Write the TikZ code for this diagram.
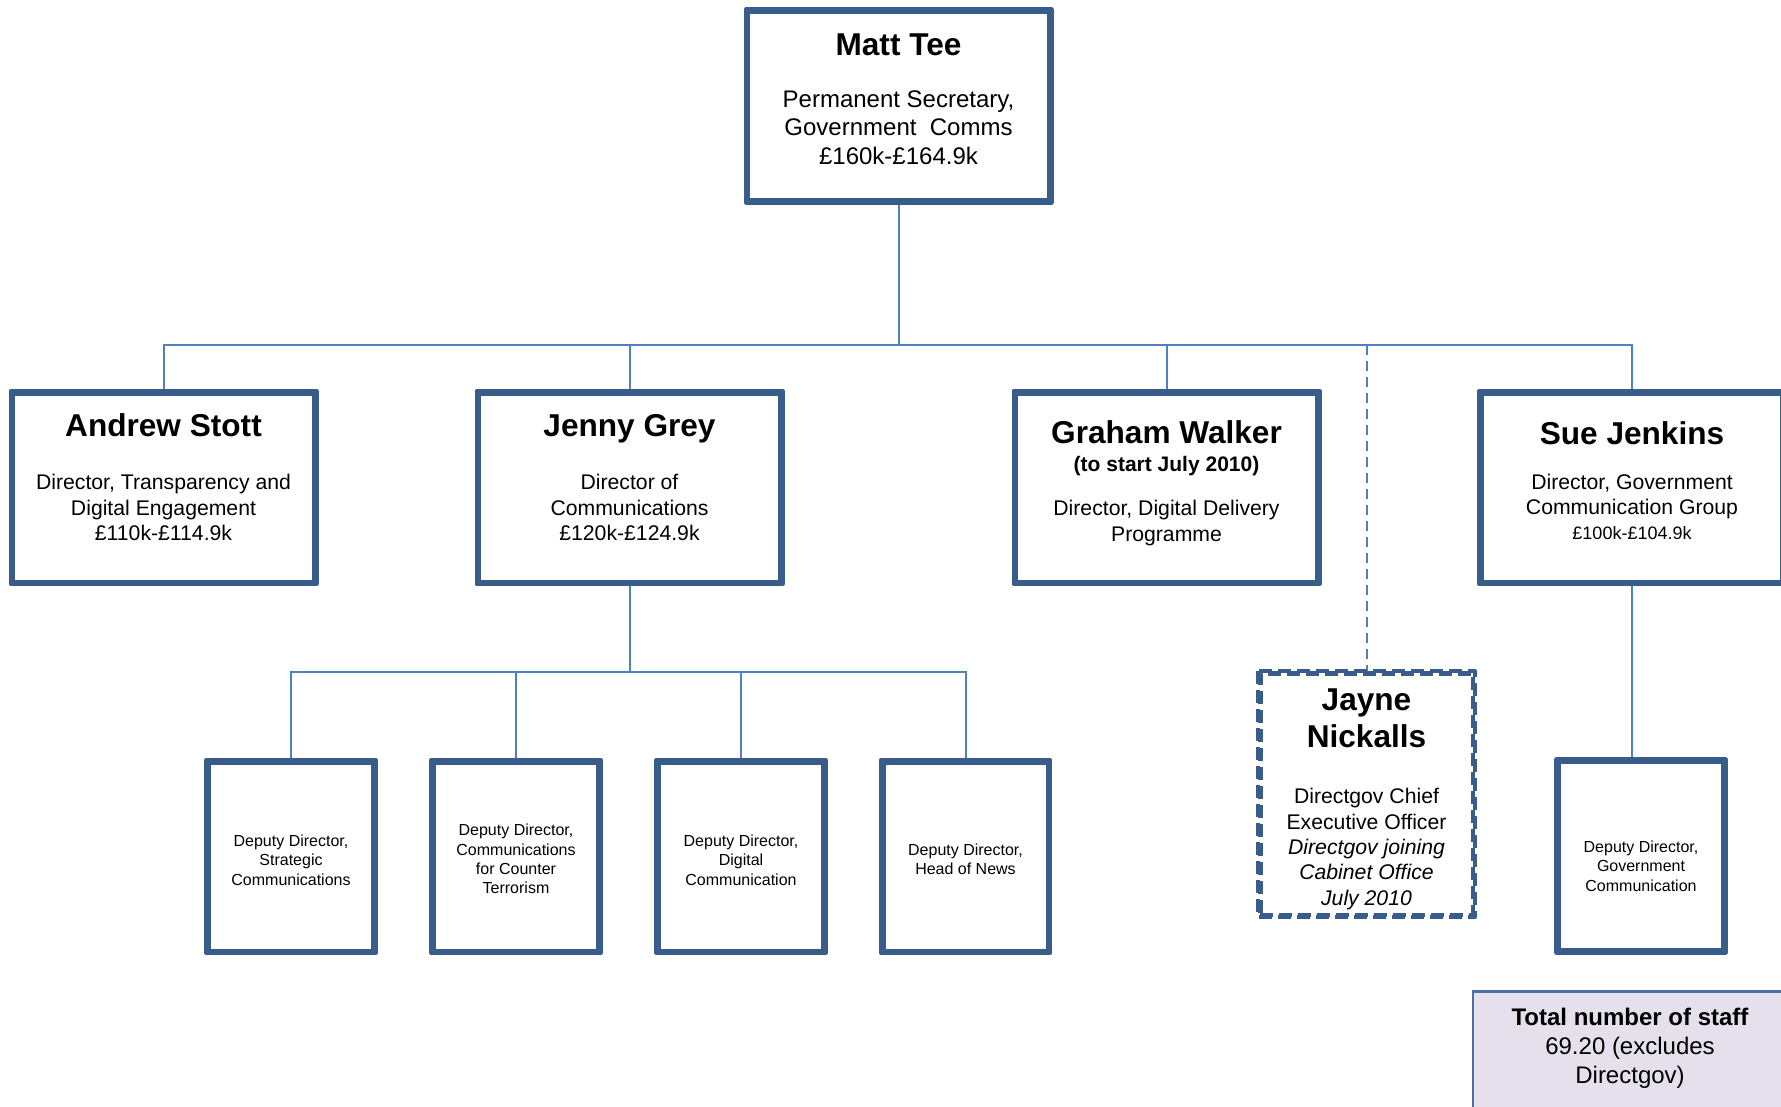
\documentclass[tikz,border=0pt]{standalone}
\usepackage{fontspec}
\setmainfont{Liberation Sans}
\usetikzlibrary{calc}

\definecolor{boxblue}{HTML}{385D8A}
\definecolor{linkblue}{HTML}{4F81BD}
\definecolor{notefill}{HTML}{E5E0EC}
\definecolor{noteline}{HTML}{4A6FA8}

\tikzset{
  orgbox/.style={draw=boxblue, line width=2.25pt, line join=round, fill=white,
    inner sep=0pt, minimum width=150.5pt, minimum height=94.25pt},
  deputybox/.style={orgbox, minimum width=82.25pt},
  plannedbox/.style={orgbox, dash pattern=on 6.5pt off 3pt, minimum width=106.25pt,
    minimum height=120.75pt},
  notebox/.style={draw=noteline, line width=1.25pt, fill=notefill, inner sep=0pt,
    minimum width=157pt, minimum height=70pt, anchor=north},
  link/.style={draw=linkblue, line width=1pt},
  dottedlink/.style={link, dash pattern=on 5pt off 3pt},
  nametext/.style={font=\fontsize{15.8}{18.5}\selectfont\bfseries, align=center, inner sep=0pt},
  bodytext/.style={font=\fontsize{10.6}{12.8}\selectfont, align=center, inner sep=0pt},
  toptext/.style={font=\fontsize{12}{14.2}\selectfont, align=center, inner sep=0pt},
  deputytext/.style={font=\fontsize{8}{9.65}\selectfont, align=center, inner sep=0pt},
}

\begin{document}
\begin{tikzpicture}[x=0.5pt, y=-0.5pt]
\useasboundingbox (0,0) rectangle (1781,1107);
\clip (0,0) rectangle (1781,1107);

% bus levels
\coordinate (bus) at (0,345);
\coordinate (subbus) at (0,672);

% boxes
\node[orgbox] (matt)   at (898.5,106)   {};
\node[orgbox] (andrew) at (163.5,487.5) {};
\node[orgbox] (jenny)  at (629.5,487.5) {};
\node[orgbox] (graham) at (1166.5,487.5) {};
\node[orgbox] (sue)    at (1632,487.5)  {};

\node[deputybox] (dep1) at (291,856.5)   {};
\node[deputybox] (dep2) at (516,856.5)   {};
\node[deputybox] (dep3) at (741,856.5)   {};
\node[deputybox] (dep4) at (965.5,856.5) {};
\node[deputybox] (gov)  at (1641,856)    {};

\node[plannedbox] (jayne) at (1366.5,794) {};

\node[notebox] (total) at (1630,990) {};

% connectors
\draw[link] (matt.south) -- (matt.south |- bus);
\draw[link] (andrew.north) -- (andrew.north |- bus) -- (sue.north |- bus) -- (sue.north);
\draw[link] (jenny.north) -- (jenny.north |- bus);
\draw[link] (graham.north) -- (graham.north |- bus);
\draw[dottedlink] (jayne.north |- bus) -- (jayne.north);

\draw[link] (jenny.south) -- (jenny.south |- subbus);
\draw[link] (dep1.north) -- (dep1.north |- subbus) -- (dep4.north |- subbus) -- (dep4.north);
\draw[link] (dep2.north) -- (dep2.north |- subbus);
\draw[link] (dep3.north) -- (dep3.north |- subbus);

\draw[link] (sue.south) -- (sue.south |- gov.north);

% redraw box outlines over connector ends
\foreach \b in {matt,andrew,jenny,graham,sue,dep1,dep2,dep3,dep4,gov}
  \draw[draw=boxblue, line width=2.25pt, line join=round] (\b.north west) rectangle (\b.south east);
\draw[draw=boxblue, line width=2.25pt, line join=round, dash pattern=on 6.5pt off 3pt]
  (jayne.north west) rectangle (jayne.south east);

% texts
\node[nametext] (mattname) at (898.5,45) {Matt Tee};
\node[toptext]  (mattrole) at (898.5,127.5) {Permanent Secretary,\\Government\ \ Comms\\£160k-£164.9k};

\node[nametext] (andrewname) at (163.5,425) {Andrew Stott};
\node[bodytext] (andrewrole) at (163.5,507.5) {Director, Transparency and\\Digital Engagement\\£110k-£114.9k};

\node[nametext] (jennyname) at (629.5,429) {Jenny Grey};
\node[bodytext] (jennyrole) at (629.5,507.5) {Director of\\Communications\\£120k-£124.9k};

\node[nametext] (grahamname) at (1166.5,432) {Graham Walker};
\node[font=\fontsize{10.5}{12.6}\selectfont\bfseries, inner sep=0pt] (grahamnote) at (1166.5,466.5) {(to start July 2010)};
\node[bodytext] (grahamrole) at (1166.5,523) {Director, Digital Delivery\\Programme};

\node[nametext] (suename) at (1632,433) {Sue Jenkins};
\node[bodytext] (suerole) at (1632,496.5) {Director, Government\\Communication Group};
\node[font=\fontsize{9}{10.8}\selectfont, inner sep=0pt] (suepay) at (1632,533) {£100k-£104.9k};

\node[nametext] (jaynename) at (1366.5,718.5) {Jayne\\Nickalls};
\node[bodytext, font=\fontsize{10.6}{12.65}\selectfont] (jaynerole) at (1366.5,849)
  {Directgov Chief\\Executive Officer\\\itshape Directgov joining\\\itshape Cabinet Office\\\itshape July 2010};

\node[deputytext] (dep1text) at (291,860)   {Deputy Director,\\Strategic\\Communications};
\node[deputytext] (dep2text) at (516,859)   {Deputy Director,\\Communications\\for Counter\\Terrorism};
\node[deputytext] (dep3text) at (741,860)   {Deputy Director,\\Digital\\Communication};
\node[deputytext] (dep4text) at (965.5,859) {Deputy Director,\\Head of News};
\node[deputytext] (govtext)  at (1641,866)  {Deputy Director,\\Government\\Communication};

\node[toptext, font=\fontsize{12}{14.5}\selectfont] (totaltext) at (1630,1048.5) {\textbf{Total number of staff}\\69.20 (excludes\\Directgov)};
\end{tikzpicture}
\end{document}
